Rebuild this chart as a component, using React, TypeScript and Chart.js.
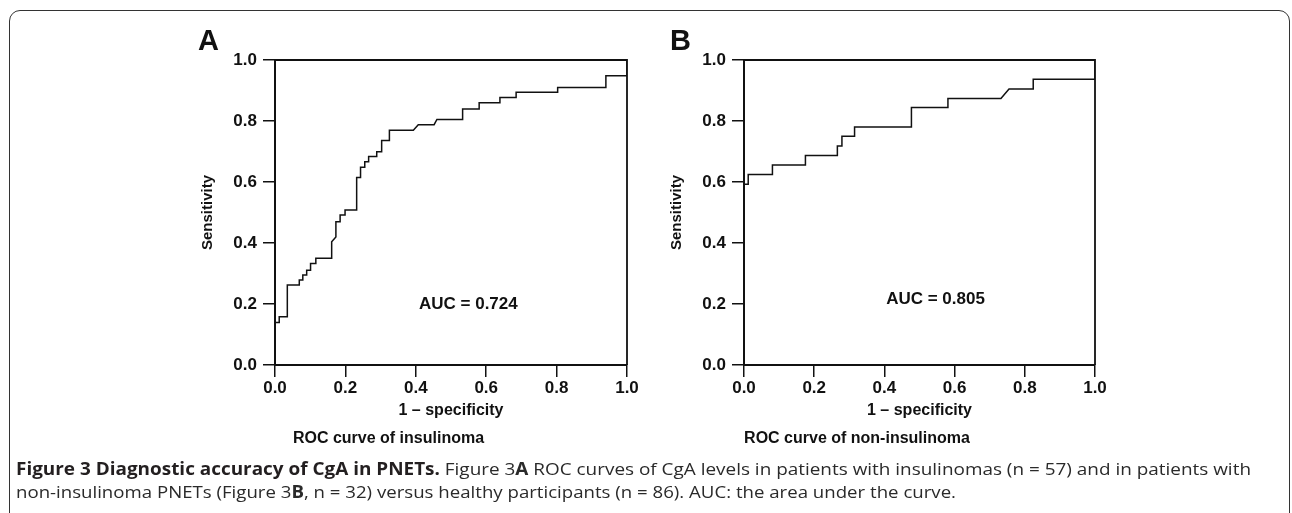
import React, { useEffect, useLayoutEffect, useRef } from 'react';
import { Chart, registerables } from 'chart.js';

Chart.register(...registerables);

// ---------- data ----------
const AXIS_TICKS = [0, 0.2, 0.4, 0.6, 0.8, 1.0];

// Panel A: ROC curve of insulinoma (1 - specificity, sensitivity)
const insulinomaFpr = [
  0, 0, 0.012, 0.012, 0.035, 0.035, 0.069, 0.069, 0.079, 0.079, 0.09, 0.09,
  0.101, 0.101, 0.116, 0.116, 0.161, 0.161, 0.173, 0.173, 0.185, 0.185, 0.199, 0.199,
  0.232, 0.232, 0.243, 0.243, 0.255, 0.255, 0.266, 0.266, 0.289, 0.289, 0.303, 0.303,
  0.325, 0.325, 0.393, 0.407, 0.452, 0.46, 0.533, 0.533, 0.58, 0.58, 0.639, 0.639,
  0.685, 0.685, 0.803, 0.803, 0.94, 0.94, 1.0, 1.0,
];
const insulinomaTpr = [
  0, 0.139, 0.139, 0.158, 0.158, 0.262, 0.262, 0.279, 0.279, 0.295, 0.295, 0.311,
  0.311, 0.333, 0.333, 0.35, 0.35, 0.404, 0.42, 0.47, 0.47, 0.492, 0.492, 0.508,
  0.508, 0.615, 0.615, 0.648, 0.648, 0.666, 0.666, 0.684, 0.684, 0.699, 0.699, 0.736,
  0.736, 0.77, 0.77, 0.788, 0.788, 0.805, 0.805, 0.839, 0.839, 0.86, 0.86, 0.877,
  0.877, 0.894, 0.894, 0.91, 0.91, 0.948, 0.948, 1.0,
];

// Panel B: ROC curve of non-insulinoma
const nonInsulinomaFpr = [
  0, 0, 0.012, 0.012, 0.081, 0.081, 0.175, 0.175, 0.266, 0.266, 0.279, 0.279,
  0.315, 0.315, 0.477, 0.477, 0.581, 0.581, 0.732, 0.755, 0.824, 0.824, 1.0, 1.0,
];
const nonInsulinomaTpr = [
  0, 0.593, 0.593, 0.625, 0.625, 0.656, 0.656, 0.687, 0.687, 0.718, 0.718, 0.75,
  0.75, 0.78, 0.78, 0.844, 0.844, 0.874, 0.874, 0.905, 0.905, 0.937, 0.937, 1.0,
];

const panelLetters = ['A', 'B'];
const panelTitles = ['ROC curve of insulinoma', 'ROC curve of non-insulinoma'];
const aucLabels = ['AUC = 0.724', 'AUC = 0.805'];
const xAxisTitle = '1 \u2013 specificity';
const yAxisTitle = 'Sensitivity';

const captionBold = 'Figure 3 Diagnostic accuracy of CgA in PNETs.';

// ---------- styling ----------
const FONT = '"Liberation Sans", Arial, Helvetica, sans-serif';
const INK = '#111';

const decorPlugin = {
  id: 'rocDecor',
  afterDatasetsDraw(chart: any, _args: any, opts: any) {
    const { ctx, chartArea: a, scales } = chart;
    ctx.save();
    // frame on top and right
    ctx.strokeStyle = INK;
    ctx.lineWidth = 1.8;
    ctx.beginPath();
    ctx.moveTo(a.left, a.top);
    ctx.lineTo(a.right, a.top);
    ctx.lineTo(a.right, a.bottom);
    ctx.stroke();
    // AUC text
    ctx.fillStyle = INK;
    ctx.font = `bold 17px ${FONT}`;
    ctx.textAlign = 'left';
    ctx.textBaseline = 'middle';
    ctx.fillText(opts.auc, scales.x.getPixelForValue(opts.aucX), scales.y.getPixelForValue(opts.aucY));
    // panel letter
    ctx.font = `bold 29px ${FONT}`;
    ctx.textBaseline = 'alphabetic';
    ctx.fillText(opts.letter, a.left + opts.letterDx, a.top + opts.letterDy);
    ctx.restore();
  },
};

type PanelProps = {
  fpr: number[];
  tpr: number[];
  letter: string;
  title: string;
  auc: string;
  aucX: number;
  aucY: number;
  letterDx: number;
  left: number;
  padRight: number;
};

function RocPanel(p: PanelProps) {
  const ref = useRef<HTMLCanvasElement>(null);
  useEffect(() => {
    if (!ref.current) return;
    const tickFont = { family: FONT, size: 17, weight: 'bold' as const };
    const titleFont = { family: FONT, size: 16, weight: 'bold' as const };
    const chart = new Chart(ref.current, {
      type: 'line',
      data: {
        datasets: [
          {
            data: p.fpr.map((x, i) => ({ x, y: p.tpr[i] })),
            borderColor: INK,
            borderWidth: 1.5,
            pointRadius: 0,
            fill: false,
            tension: 0,
          },
        ],
      },
      plugins: [decorPlugin],
      options: {
        animation: false,
        responsive: false,
        events: [],
        layout: { padding: { top: 40, left: 0, right: p.padRight, bottom: 31.4 } },
        plugins: {
          legend: { display: false },
          tooltip: { enabled: false },
          title: {
            display: true,
            position: 'bottom',
            text: p.title,
            color: INK,
            font: titleFont,
            padding: { top: 8.8, bottom: 0 },
          },
          rocDecor: {
            auc: p.auc,
            aucX: p.aucX,
            aucY: p.aucY,
            letter: p.letter,
            letterDx: p.letterDx,
            letterDy: -10,
          },
        } as any,
        scales: {
          x: {
            type: 'linear',
            min: 0,
            max: 1,
            afterBuildTicks: (s: any) => {
              s.ticks = AXIS_TICKS.map((v) => ({ value: v }));
            },
            afterFit: (s: any) => {
              s.height = 55.6;
            },
            ticks: {
              color: INK,
              font: tickFont,
              padding: 1,
              autoSkip: false,
              maxRotation: 0,
              callback: (v: any) => Number(v).toFixed(1),
            },
            grid: { drawOnChartArea: false, drawTicks: true, tickLength: 12, color: INK, lineWidth: 1.5 },
            border: { display: true, color: INK, width: 2 },
            title: { display: true, text: xAxisTitle, color: INK, font: titleFont, padding: 0 },
          },
          y: {
            type: 'linear',
            min: 0,
            max: 1,
            afterBuildTicks: (s: any) => {
              s.ticks = AXIS_TICKS.map((v) => ({ value: v }));
            },
            afterFit: (s: any) => {
              s.width = 125;
            },
            ticks: {
              color: INK,
              font: tickFont,
              padding: 6,
              autoSkip: false,
              callback: (v: any) => Number(v).toFixed(1),
            },
            grid: { drawOnChartArea: false, drawTicks: true, tickLength: 12, color: INK, lineWidth: 1.5 },
            border: { display: true, color: INK, width: 2 },
            title: {
              display: true,
              text: yAxisTitle,
              color: INK,
              font: { family: FONT, size: 15, weight: 'bold' },
              padding: { top: 49, bottom: 0 },
            },
          },
        },
      } as any,
    });
    return () => chart.destroy();
  }, []);
  return (
    <canvas
      ref={ref}
      width={500}
      height={460}
      style={{ position: 'absolute', left: p.left, top: 20, width: 500, height: 460 }}
    />
  );
}

function FitLine({ width, top, left, children }: { width: number; top: number; left: number; children: any }) {
  const ref = useRef<HTMLDivElement>(null);
  useLayoutEffect(() => {
    const el = ref.current;
    if (!el) return;
    el.style.transform = 'none';
    const w = el.getBoundingClientRect().width;
    if (w > 0) el.style.transform = `scaleX(${width / w})`;
  }, [width]);
  return (
    <div
      ref={ref}
      style={{
        position: 'absolute',
        left,
        top,
        whiteSpace: 'nowrap',
        transformOrigin: '0 0',
        fontFamily: '"Open Sans", "Noto Sans", sans-serif',
        fontSize: 17,
        lineHeight: '22px',
        color: '#2a2a2a',
      }}
    >
      {children}
    </div>
  );
}

export default function App() {
  return (
    <div
      style={{
        position: 'absolute',
        left: 0,
        top: 0,
        width: 1292,
        height: 513,
        overflow: 'hidden',
        background: '#fff',
      }}
    >
      <div
        style={{
          position: 'absolute',
          left: 8.5,
          top: 10,
          width: 1281,
          height: 540,
          border: '1.5px solid #333',
          borderRadius: 11,
          boxSizing: 'border-box',
        }}
      />
      <RocPanel
        fpr={insulinomaFpr}
        tpr={insulinomaTpr}
        letter={panelLetters[0]}
        title={panelTitles[0]}
        auc={aucLabels[0]}
        aucX={0.409}
        aucY={0.2}
        letterDx={-77}
        left={150}
        padRight={23}
      />
      <RocPanel
        fpr={nonInsulinomaFpr}
        tpr={nonInsulinomaTpr}
        letter={panelLetters[1]}
        title={panelTitles[1]}
        auc={aucLabels[1]}
        aucX={0.405}
        aucY={0.216}
        letterDx={-74}
        left={619}
        padRight={24}
      />
      <FitLine width={1235} top={458} left={16}>
        <b style={{ color: '#231f20' }}>{captionBold}</b> Figure 3<b>A</b> ROC curves of CgA levels in patients with
        insulinomas (n = 57) and in patients with
      </FitLine>
      <FitLine width={940} top={481} left={16}>
        non-insulinoma PNETs (Figure 3<b>B</b>, n = 32) versus healthy participants (n = 86). AUC: the area under the
        curve.
      </FitLine>
    </div>
  );
}
